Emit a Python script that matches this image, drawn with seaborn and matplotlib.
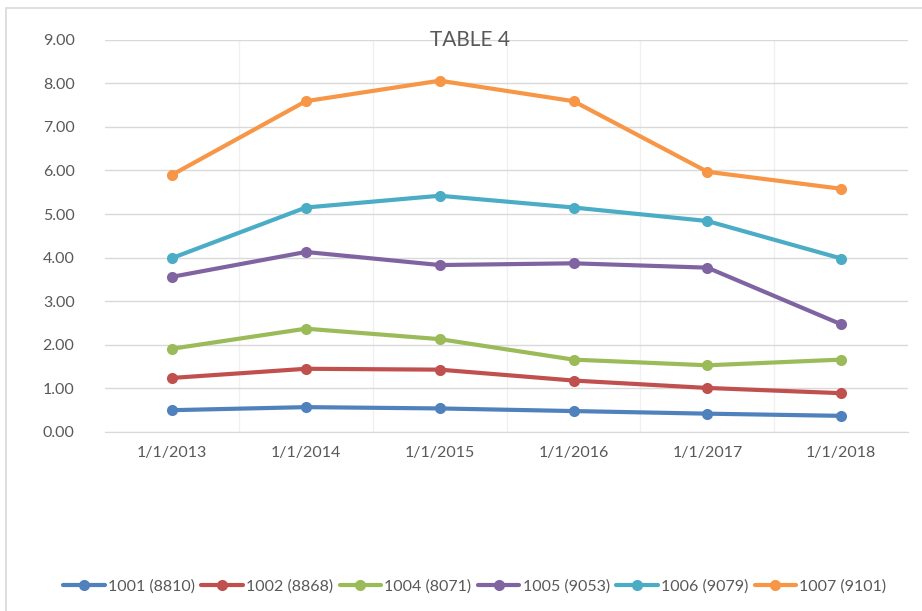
import pandas as pd
import matplotlib.pyplot as plt
import seaborn as sns
from matplotlib.patches import Rectangle

# ── DATA ──────────────────────────────────────────────────────────────
dates = ['1/1/2013', '1/1/2014', '1/1/2015', '1/1/2016', '1/1/2017', '1/1/2018']
s1001 = [0.50, 0.57, 0.54, 0.48, 0.42, 0.37]
s1002 = [1.24, 1.45, 1.43, 1.18, 1.01, 0.89]
s1004 = [1.91, 2.37, 2.13, 1.66, 1.53, 1.66]
s1005 = [3.56, 4.13, 3.83, 3.87, 3.77, 2.47]
s1006 = [3.99, 5.15, 5.42, 5.15, 4.84, 3.98]
s1007 = [5.90, 7.59, 8.06, 7.59, 5.97, 5.58]
names = ['1001 (8810)', '1002 (8868)', '1004 (8071)', '1005 (9053)', '1006 (9079)', '1007 (9101)']
colors = ['#4F81BD', '#C0504D', '#9BBB59', '#8064A2', '#4BACC6', '#F79646']

rows = []
for name, vals in zip(names, [s1001, s1002, s1004, s1005, s1006, s1007]):
    for d, v in zip(dates, vals):
        rows.append({'date': d, 'value': v, 'series': name})
df = pd.DataFrame(rows)

sns.set_style('white')
plt.rcParams['font.family'] = ['Lato', 'DejaVu Sans']
txt = '#595959'

fig = plt.figure(figsize=(9.22, 6.11), dpi=100)
ax = fig.add_axes([0.114, 0.293, 0.871, 0.642])

# chart border like Excel
fig.patches.append(Rectangle((0.006, -0.01), 1.0, 0.997, transform=fig.transFigure,
                             fill=False, edgecolor='#d9d9d9', linewidth=1.2))

sns.lineplot(data=df, x='date', y='value', hue='series', palette=colors,
             marker='o', markersize=8, markeredgewidth=0, linewidth=3, ax=ax)

ax.set_xlim(-0.5, 5.5)
ax.set_ylim(0, 9)
ax.set_yticks(range(10))
ax.yaxis.set_major_formatter(plt.FuncFormatter(lambda y, _: f'{y:.2f}'))
# vertical gridlines between categories
for b in [0.5, 1.5, 2.5, 3.5, 4.5]:
    ax.axvline(b, color='#f0f0f0', linewidth=1, zorder=0)
ax.grid(axis='y', color='#d9d9d9', linewidth=1)
ax.set_axisbelow(True)
for sp in ['top', 'right', 'left']:
    ax.spines[sp].set_visible(False)
ax.spines['bottom'].set_color('#d9d9d9')
ax.tick_params(axis='both', length=0, labelsize=11.5, colors=txt, pad=10)
ax.tick_params(axis='y', pad=22)
ax.set_xlabel('')
ax.set_ylabel('')
fig.text(0.51, 0.934, 'TABLE 4', fontsize=15, color=txt, ha='center', va='center')

handles, labels = ax.get_legend_handles_labels()
ax.get_legend().remove()
fig.legend(handles, labels, loc='center', bbox_to_anchor=(0.515, 0.04), ncol=6,
           frameon=False, fontsize=11.5, handlelength=2.6, columnspacing=0.4,
           handletextpad=0.2, labelcolor=txt)

plt.savefig('out.png', dpi=100)
